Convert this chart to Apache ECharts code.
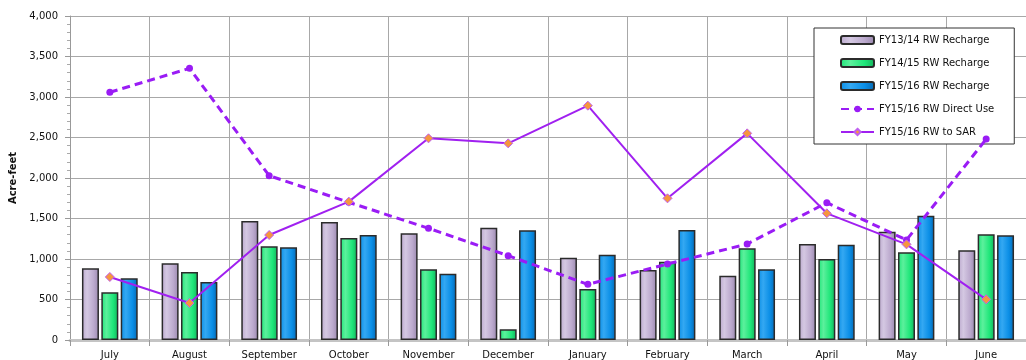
<!DOCTYPE html>
<html>
<head>
<meta charset="utf-8">
<script src="https://cdn.jsdelivr.net/npm/echarts@6/dist/echarts.min.js"></script>
<style>
html,body{margin:0;padding:0;background:#fff;}
#chart{width:1026px;height:360px;}
</style>
</head>
<body>
<div id="chart"></div>
<script>
const months = ['July','August','September','October','November','December','January','February','March','April','May','June'];
const fy1314Recharge = [885, 947, 1469, 1457, 1317, 1387, 1016, 864, 794, 1185, 1337, 1107];
const fy1415Recharge = [589, 840, 1157, 1259, 873, 132, 630, 967, 1132, 1000, 1082, 1305];
const fy1516Recharge = [762, 716, 1144, 1296, 819, 1354, 1053, 1358, 873, 1177, 1535, 1293];
const fy1516DirectUse = [3058, 3354, 2029, 1700, 1379, 1041, 687, 938, 1185, 1695, 1235, 2480];
const fy1516ToSAR = [778, 457, 1296, 1708, 2490, 2428, 2893, 1749, 2551, 1564, 1181, 502];
const yTicks = [0, 500, 1000, 1500, 2000, 2500, 3000, 3500, 4000];

function barGrad(dark, light, mid) {
  return new echarts.graphic.LinearGradient(0, 0, 1, 0, [
    {offset: 0, color: mid},
    {offset: 0.3, color: light},
    {offset: 0.7, color: mid},
    {offset: 1, color: dark}
  ]);
}
const font = 'DejaVu Sans, Verdana, sans-serif';
const chart = echarts.init(document.getElementById('chart'));
chart.setOption({
  animation: false,
  backgroundColor: '#fff',
  textStyle: {fontFamily: font},
  grid: {left: 70, right: -7, top: 16, bottom: 20, containLabel: false},
  legend: {
    orient: 'vertical',
    left: 814, top: 28,
    backgroundColor: '#fff',
    borderColor: '#333', borderWidth: 1,
    padding: [7, 20, 7, 26],
    itemWidth: 33, itemHeight: 8, itemGap: 13,
    textStyle: {fontFamily: font, fontSize: 10, color: '#111'},
    data: ['FY13/14 RW Recharge','FY14/15 RW Recharge','FY15/16 RW Recharge','FY15/16 RW Direct Use','FY15/16 RW to SAR']
  },
  xAxis: {
    type: 'category',
    data: months,
    axisLine: {show: true, lineStyle: {color: '#c4c4c4', width: 3}},
    axisTick: {show: true, alignWithLabel: false, length: 6, lineStyle: {color: '#999'}},
    splitLine: {show: true, lineStyle: {color: '#a8a8a8', width: 1}},
    axisLabel: {fontFamily: font, fontSize: 10, color: '#111', margin: 10, interval: 0}
  },
  yAxis: {
    type: 'value',
    min: 0, max: 4000, interval: 500,
    name: 'Acre-feet',
    nameLocation: 'middle',
    nameRotate: 90,
    nameGap: 49,
    nameTextStyle: {fontFamily: font, fontSize: 10, fontWeight: 'bold', color: '#111'},
    axisLine: {show: true, lineStyle: {color: '#999'}},
    axisTick: {show: true, length: 5, lineStyle: {color: '#999'}},
    minorTick: {show: true, splitNumber: 5, length: 3, lineStyle: {color: '#aaa'}},
    splitLine: {show: true, lineStyle: {color: '#a8a8a8', width: 1}},
    axisLabel: {fontFamily: font, fontSize: 10, color: '#111', margin: 12,
      formatter: v => yTicks.includes(v) ? v.toLocaleString('en-US') : ''}
  },
  series: [
    {name: 'FY13/14 RW Recharge', type: 'bar', data: fy1314Recharge, barWidth: 17, barGap: '14%',
      itemStyle: {color: barGrad('#9a88ae', '#d4c8e2', '#bba9cd'), borderColor: '#2b2b2b', borderWidth: 1.5}},
    {name: 'FY14/15 RW Recharge', type: 'bar', data: fy1415Recharge, barWidth: 17, barGap: '14%',
      itemStyle: {color: barGrad('#14b25c', '#5cf09c', '#1ee679'), borderColor: '#2b2b2b', borderWidth: 1.5}},
    {name: 'FY15/16 RW Recharge', type: 'bar', data: fy1516Recharge, barWidth: 17, barGap: '14%',
      itemStyle: {color: barGrad('#0668b2', '#34a8f2', '#0a8ee6'), borderColor: '#2b2b2b', borderWidth: 1.5}},
    {name: 'FY15/16 RW Direct Use', type: 'line', data: fy1516DirectUse, z: 5,
      symbol: 'circle', symbolSize: 7,
      lineStyle: {color: '#9a1cf5', width: 3, type: [8, 5]},
      itemStyle: {color: '#9a1cf5'}},
    {name: 'FY15/16 RW to SAR', type: 'line', data: fy1516ToSAR, z: 6,
      symbol: 'diamond', symbolSize: 9,
      lineStyle: {color: '#a020f0', width: 2},
      itemStyle: {color: '#f5963f', borderColor: '#c060f0', borderWidth: 1}}
  ]
});
</script>
</body>
</html>
